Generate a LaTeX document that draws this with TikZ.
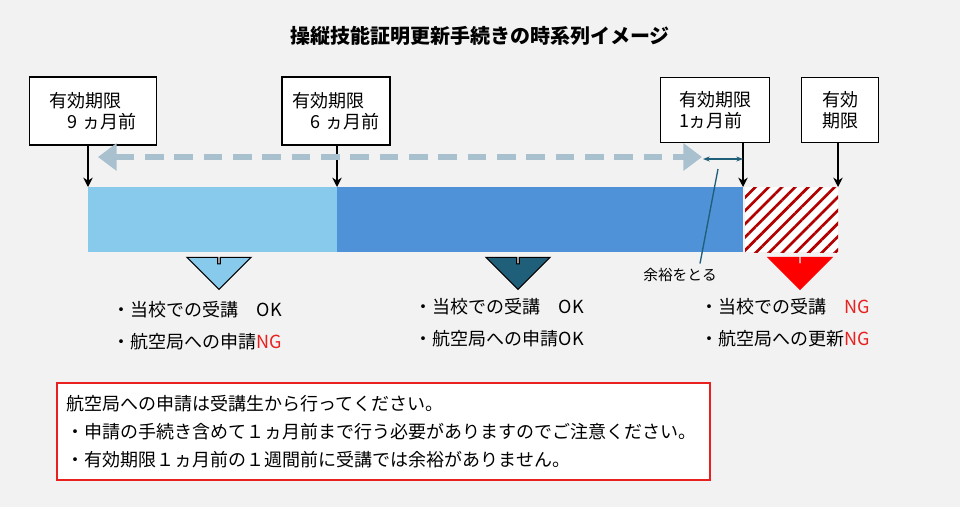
\documentclass[tikz,border=0pt]{standalone}
\usepackage{fontspec}
\setmainfont{Noto Sans CJK JP}
\usetikzlibrary{arrows.meta,patterns.meta,shapes.arrows}
\definecolor{bg}{HTML}{F2F2F2}
\definecolor{lightbar}{HTML}{87CAEB}
\definecolor{darkbar}{HTML}{4F92D8}
\definecolor{teal}{HTML}{1F5F7A}
\definecolor{ghost}{HTML}{A9C0CE}
\definecolor{ngred}{HTML}{E8201E}

\begin{document}
\begin{tikzpicture}[x=0.75pt,y=-0.75pt,
   limitbox/.style={draw=black,fill=white,line width=0.8pt,align=left,inner sep=3pt,font=\fontsize{13.5pt}{16pt}\selectfont},
   tick/.style={-{Stealth[length=7pt,width=7pt]},line width=2.2pt},
   listtext/.style={anchor=west,align=left,font=\fontsize{13.5pt}{24pt}\selectfont},
   bigdown/.style={single arrow,shape border rotate=270,draw=black,line width=0.8pt,minimum height=19pt,minimum width=48pt,single arrow head extend=10pt,inner sep=0pt}]
         % background
         \fill[bg] (0,0) rectangle (960,507);
         \useasboundingbox (0,0) rectangle (960,507);

         % title
         \node[font=\bfseries\fontsize{15pt}{18pt}\selectfont] (title) at (480,36) {操縦技能証明更新手続きの時系列イメージ};

         % limit boxes
         \node[limitbox,minimum width=95pt,minimum height=51pt] (nine) at (93,111) {有効期限\\　9 ヵ月前};
         \node[limitbox,minimum width=81pt,minimum height=51pt] (six) at (336,111) {有効期限\\　6 ヵ月前};
         \node[limitbox,minimum width=82pt,minimum height=49pt] (one) at (715,110) {有効期限\\1ヵ月前};
         \node[limitbox,minimum width=58pt,minimum height=49pt] (end) at (840,110) {有効\\期限};

         % bar
         \coordinate (p9) at (88,187);
         \coordinate (p6) at (337,187);
         \coordinate (p1) at (743,187);
         \coordinate (pe) at (838,187);
         \fill[lightbar] (88,187) rectangle (337,252);
         \fill[darkbar] (337,187) rectangle (743,252);
         \fill[white] (745,187) rectangle (838,252);
         \fill[pattern={Lines[angle=45,distance=7pt,line width=2pt]},pattern color=red!70!black] (745,187) rectangle (838,252);

         % ticks
         \draw[tick] (nine.south -| p9) -- (p9);
         \draw[tick] (six.south -| p6) -- (p6);
         \draw[tick] (one.south -| p1) -- (p1);
         \draw[tick] (end.south -| pe) -- (pe);

         % dashed range arrow
         \coordinate (dl) at (98,157);
         \coordinate (dr) at (702,157);
         \draw[ghost,line width=5pt,dash pattern=on 14pt off 8pt,{Triangle[length=14pt,width=20pt]}-{Triangle[length=14pt,width=20pt]}] (dl) -- (dr);

         % margin arrow
         \coordinate (ml) at (703,159);
         \coordinate (mr) at (743,159);
         \draw[teal,line width=1pt,{Stealth[length=5pt]}-{Stealth[length=5pt]}] (ml) -- (mr);
         \node[font=\fontsize{11pt}{13pt}\selectfont] (margin) at (680,275) {余裕をとる};
         \coordinate (mtip) at (718,169);
         \draw[teal,line width=1pt] (margin.north) ++(20,0) coordinate (mbase) (mbase) -- (mtip);

         % down arrows
         \node[bigdown,fill=lightbar] (d1) at (219,276) {};
         \node[bigdown,fill=teal] (d2) at (518,276) {};
         \node[bigdown,fill=red,draw=red] (d3) at (800,276) {};

         % lists
         \node[listtext] (l1) at (108,326) {・当校での受講　OK\\・航空局への申請\textcolor{ngred}{NG}};
         \node[listtext] (l2) at (410,323) {・当校での受講　OK\\・航空局への申請OK};
         \node[listtext] (l3) at (696,323) {・当校での受講　\textcolor{ngred}{NG}\\・航空局への更新\textcolor{ngred}{NG}};

         % note box
         \draw[ngred,fill=white,line width=0.8pt] (57,383) rectangle (710,480);
         \node[listtext,font=\fontsize{13.5pt}{21pt}\selectfont] (note) at (62,432) {航空局への申請は受講生から行ってください。\\・申請の手続き含めて１ヵ月前まで行う必要がありますのでご注意ください。\\・有効期限１ヵ月前の１週間前に受講では余裕がありません。};
\end{tikzpicture}
\end{document}
